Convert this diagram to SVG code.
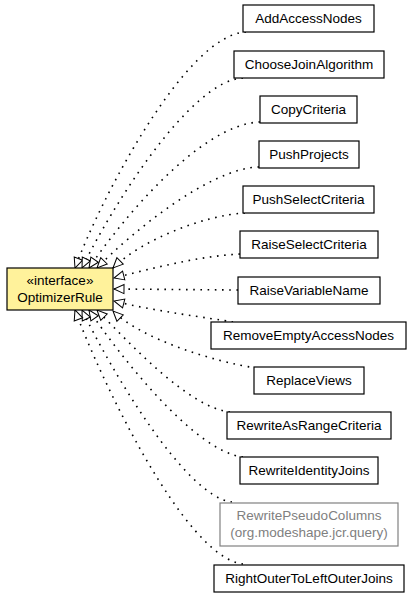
<svg xmlns="http://www.w3.org/2000/svg" width="413" height="597" viewBox="0 0 413 597">
<style>
  .box { fill: #ffffff; stroke: #000000; stroke-width: 1.2; }
  .gbox { fill: #ffffff; stroke: #808080; stroke-width: 1.2; }
  .ibox { fill: #fff29b; stroke: #000000; stroke-width: 1.2; }
  text { font-family: "Liberation Sans", Arial, sans-serif; font-size: 13.5px; fill: #000000; text-anchor: middle; }
  .gt { fill: #808080; }
  .edge { fill: none; stroke: #000000; stroke-width: 1.6; stroke-dasharray: 1.6 5.6; stroke-linecap: butt; }
</style>
<defs>
  <marker id="tri" viewBox="-1 -1 12 11" refX="10" refY="4.5" markerWidth="12" markerHeight="11" markerUnits="userSpaceOnUse" orient="auto" overflow="visible">
    <path d="M0,0 L10,4.5 L0,9 Z" fill="#ffffff" stroke="#000000" stroke-width="1" stroke-dasharray="none"/>
  </marker>
</defs>
<rect width="413" height="597" fill="#ffffff"/>
<g id="connectors">
  <path class="edge" marker-end="url(#tri)" d="M246,32 C186,34 100,200 75,268"/>
  <path class="edge" marker-end="url(#tri)" d="M243,78 C190,80 110,210 82,268"/>
  <path class="edge" marker-end="url(#tri)" d="M260,122 C200,124 120,222 89,268"/>
  <path class="edge" marker-end="url(#tri)" d="M259,167 C210,168 132,232 97,268"/>
  <path class="edge" marker-end="url(#tri)" d="M245,213 C205,215 141,240 113,268"/>
  <path class="edge" marker-end="url(#tri)" d="M240,254 C200,256 153,268 114,278"/>
  <path class="edge" marker-end="url(#tri)" d="M238,290 L114,289"/>
  <path class="edge" marker-end="url(#tri)" d="M233,322 C210,318 153,311 114,301"/>
  <path class="edge" marker-end="url(#tri)" d="M256,368 C215,362 141,339 113,311"/>
  <path class="edge" marker-end="url(#tri)" d="M230,412 C190,408 132,346 97,310"/>
  <path class="edge" marker-end="url(#tri)" d="M243,457 C195,452 120,356 89,310"/>
  <path class="edge" marker-end="url(#tri)" d="M232,502 C185,497 110,368 82,310"/>
  <path class="edge" marker-end="url(#tri)" d="M243,564 C185,558 100,378 75,310"/>
</g>
<g id="OptimizerRule">
  <rect class="ibox" x="7" y="268" width="106" height="42"/>
  <text x="60" y="285">«interface»</text>
  <text x="60" y="302">OptimizerRule</text>
</g>
<g id="AddAccessNodes">
  <rect class="box" x="243" y="5" width="131" height="27"/>
  <text x="308.5" y="23">AddAccessNodes</text>
</g>
<g id="ChooseJoinAlgorithm">
  <rect class="box" x="234" y="51" width="150" height="27"/>
  <text x="309" y="69">ChooseJoinAlgorithm</text>
</g>
<g id="CopyCriteria">
  <rect class="box" x="260" y="96" width="97" height="27"/>
  <text x="308.5" y="114">CopyCriteria</text>
</g>
<g id="PushProjects">
  <rect class="box" x="259" y="141" width="100" height="27"/>
  <text x="309" y="159">PushProjects</text>
</g>
<g id="PushSelectCriteria">
  <rect class="box" x="243" y="186" width="131" height="27"/>
  <text x="308.5" y="204">PushSelectCriteria</text>
</g>
<g id="RaiseSelectCriteria">
  <rect class="box" x="240" y="231" width="138" height="27"/>
  <text x="309" y="249">RaiseSelectCriteria</text>
</g>
<g id="RaiseVariableName">
  <rect class="box" x="238" y="277" width="142" height="27"/>
  <text x="309" y="295">RaiseVariableName</text>
</g>
<g id="RemoveEmptyAccessNodes">
  <rect class="box" x="211" y="322" width="195" height="27"/>
  <text x="308.5" y="340">RemoveEmptyAccessNodes</text>
</g>
<g id="ReplaceViews">
  <rect class="box" x="254" y="367" width="110" height="27"/>
  <text x="309" y="385">ReplaceViews</text>
</g>
<g id="RewriteAsRangeCriteria">
  <rect class="box" x="227" y="412" width="164" height="27"/>
  <text x="309" y="430">RewriteAsRangeCriteria</text>
</g>
<g id="RewriteIdentityJoins">
  <rect class="box" x="240" y="457" width="138" height="27"/>
  <text x="309" y="475">RewriteIdentityJoins</text>
</g>
<g id="RewritePseudoColumns">
  <rect class="gbox" x="220" y="503" width="178" height="43"/>
  <text class="gt" x="309" y="520">RewritePseudoColumns</text>
  <text class="gt" x="309" y="537">(org.modeshape.jcr.query)</text>
</g>
<g id="RightOuterToLeftOuterJoins">
  <rect class="box" x="214" y="565" width="190" height="27"/>
  <text x="309" y="583">RightOuterToLeftOuterJoins</text>
</g>
</svg>
